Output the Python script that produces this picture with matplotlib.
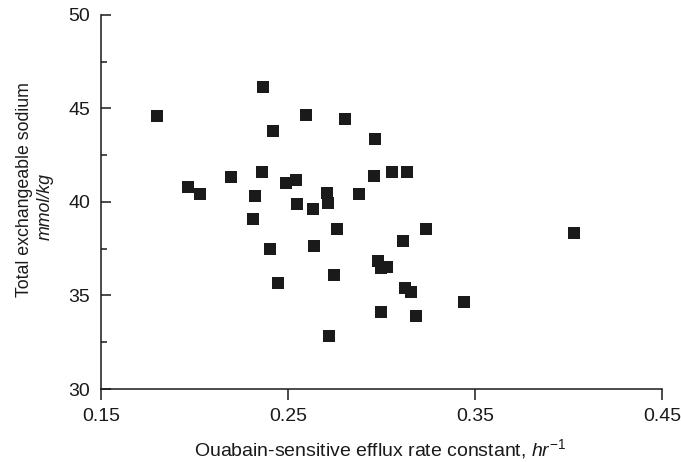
import matplotlib
matplotlib.use("Agg")
import matplotlib.pyplot as plt
from matplotlib.ticker import MultipleLocator

plt.rcParams['font.family'] = ['Liberation Sans', 'DejaVu Sans']
plt.rcParams['mathtext.fontset'] = 'custom'
plt.rcParams['mathtext.rm'] = 'Liberation Sans'
plt.rcParams['mathtext.it'] = 'Liberation Sans:italic'

# values
efflux_rate = [0.180, 0.2365, 0.2595, 0.242, 0.1964, 0.2031, 0.2195, 0.2359,
               0.2324, 0.2315, 0.2491, 0.2543, 0.2550, 0.2632, 0.2707, 0.2712,
               0.276, 0.2807, 0.2965, 0.2958, 0.3054, 0.3138, 0.2878, 0.3238,
               0.4031, 0.2639, 0.3117, 0.2983, 0.2996, 0.3031, 0.2748, 0.3126,
               0.3156, 0.2996, 0.3184, 0.2721, 0.3443, 0.2404, 0.2447]
sodium = [44.60, 46.12, 44.64, 43.77, 40.79, 40.42, 41.32, 41.59,
          40.33, 39.10, 41.02, 41.15, 39.90, 39.63, 40.45, 39.92,
          38.53, 44.41, 43.37, 41.36, 41.61, 41.61, 40.42, 38.56,
          38.32, 37.64, 37.89, 36.85, 36.45, 36.52, 36.09, 35.38,
          35.18, 34.13, 33.88, 32.85, 34.66, 37.48, 35.68]

x_ticks = [0.15, 0.25, 0.35, 0.45]
x_tick_labels = ['0.15', '0.25', '0.35', '0.45']
y_ticks = [30, 35, 40, 45, 50]

ink = '#1a1a1a'

fig = plt.figure(figsize=(6.81, 4.62), dpi=100)
ax = fig.add_axes([0.1483, 0.158, 0.972 - 0.1483, 0.968 - 0.158])

ax.plot(efflux_rate, sodium, 's', color=ink, markersize=8.3, markeredgewidth=0)

ax.set_xlim(0.15, 0.45)
ax.set_ylim(30, 50)
ax.set_xticks(x_ticks)
ax.set_xticklabels(x_tick_labels)
ax.set_yticks(y_ticks)
ax.yaxis.set_minor_locator(MultipleLocator(2.5))

for side in ['top', 'right']:
    ax.spines[side].set_visible(False)
for side in ['left', 'bottom']:
    ax.spines[side].set_linewidth(1.1)
    ax.spines[side].set_color(ink)

ax.tick_params(axis='x', direction='out', length=8, width=1.1, pad=6,
               labelsize=14, colors=ink)
ax.tick_params(axis='y', which='major', direction='in', length=7.5, width=1.1,
               pad=8, labelsize=14, colors=ink)
ax.tick_params(axis='y', which='minor', direction='in', length=4.5, width=1.1,
               colors=ink)

fig.text(380 / 681, 1 - 449 / 462, r'Ouabain-sensitive efflux rate constant, $hr^{-1}$',
         fontsize=14, ha='center', va='center', color=ink)
fig.text(25 / 681, 1 - 190 / 462, 'Total exchangeable sodium', rotation=90,
         fontsize=12.8, ha='center', va='center', color=ink)
fig.text(45 / 681, 1 - 207 / 462, 'mmol/kg', rotation=90, style='italic',
         fontsize=12.8, ha='center', va='center', color=ink)

fig.savefig('out.png', dpi=100)
